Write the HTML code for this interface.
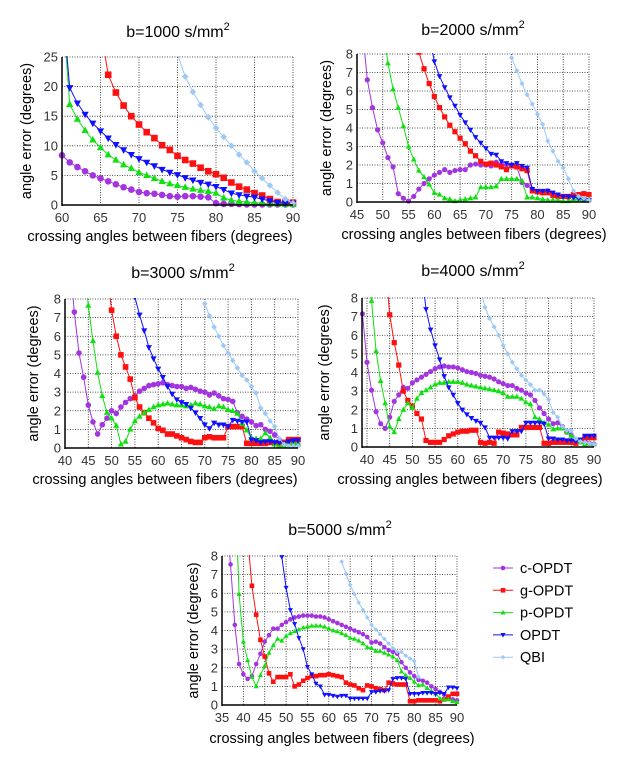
<!DOCTYPE html>
<html><head><meta charset="utf-8">
<style>
body{margin:0;background:#fff;}
svg{display:block;font-family:"Liberation Sans",sans-serif;}
</style></head>
<body>
<svg id="chart" width="628" height="763" viewBox="0 0 628 763"></svg>
<script>
const seriesNames = ["c-OPDT","g-OPDT","p-OPDT","OPDT","QBI"];
const seriesColors = ["#a335e0","#ff1010","#10e010","#1010ff","#9ec9f5"];
const seriesMarkers = ["circle","square","tri-up","tri-down","diamond"];

const b1000Start = [60,65,60,60,75];
const b1000c = [8.4,7.2,6.4,5.7,5.0,4.5,4.0,3.5,3.0,2.6,2.2,2.0,1.9,1.7,1.5,1.4,1.5,1.5,1.4,1.3,0.3,0.2,0.2,0.15,0.1,0.1,0.1,0.1,0.1,0.1,0.1];
const b1000g = [30,22,19,16.8,15,13.6,12.3,11.3,10.1,9.3,8.3,7.6,7.0,6.3,5.7,5.2,4.6,3.8,3.1,2.6,2.0,1.6,1.0,0.5,0.5,0.4];
const b1000p = [35,17,14.5,12.6,11,9.7,8.5,7.6,6.8,6.2,5.5,5.0,4.5,4.0,3.6,3.3,3.0,2.7,2.5,2.3,2.0,1.2,0.8,0.6,0.5,0.4,0.3,0.2,0.2,0.1,0.1];
const b1000o = [35,19.8,17.2,15.3,13.8,12.5,11.3,10.2,9.3,8.5,7.8,7.2,6.6,6.0,5.5,5.1,4.6,4.2,3.8,3.5,3.1,2.6,2.0,1.7,1.5,1.3,1.0,0.7,0.4,0.3,0.3];
const b1000q = [25.5,21.7,19.1,16.9,14.8,13.0,11.5,10.0,8.5,7.2,5.7,4.5,3.3,2.1,1.0,0.3];

const b2000Start = [46,57,50,59,75];
const b2000c = [9.5,6.6,5.1,3.9,3.2,2.4,1.9,0.45,0.2,0.05,0.3,0.7,1.0,1.25,1.45,1.6,1.75,1.6,1.7,1.75,1.75,2.0,2.05,2.0,2.0,1.95,2.15,2.05,2.0,2.0,1.9,1.05,0.9,0.7,0.55,0.5,0.6,0.45,0.3,0.3,0.25,0.3,0.2,0.15,0.1];
const b2000g = [8.1,7.2,6.4,5.7,5.1,4.6,4.15,3.8,3.45,3.15,2.75,2.5,2.2,2.05,2.1,2.0,1.9,1.75,1.95,1.9,1.8,1.7,0.6,0.55,0.5,0.5,0.35,0.3,0.3,0.3,0.4,0.4,0.45,0.4];
const b2000p = [9.5,7.5,6.1,5.1,4.1,3.0,2.3,1.7,1.35,0.95,0.5,0.4,0.2,0.15,0.05,0.1,0.15,0.2,0.25,0.8,0.8,0.8,0.85,1.25,1.25,1.25,1.25,1.15,0.25,0.25,0.2,0.15,0.1,0.1,0.1,0.05,0.05,0.15,0.15,0.15,0.15];
const b2000o = [9,7.6,6.8,6.2,5.65,5.2,4.7,4.3,3.9,3.5,3.2,2.9,2.6,2.55,2.2,2.1,2.0,2.1,1.95,1.85,0.7,0.6,0.6,0.6,0.5,0.4,0.3,0.3,0.25,0.2,0.15,0.1];
const b2000q = [7.8,7.1,6.4,5.8,5.3,4.75,4.2,3.3,2.75,2.2,1.85,1.25,0.6,0.3,0.2,0.1];

const b3000Start = [41,49,44,55,70];
const b3000c = [10,7.3,5.1,3.8,2.3,1.4,0.75,1.25,1.6,2.0,1.85,2.2,2.45,2.65,2.8,3.05,3.2,3.35,3.4,3.45,3.5,3.4,3.35,3.3,3.3,3.2,3.25,3.15,3.05,3.0,2.85,2.95,2.8,2.65,2.6,2.5,1.9,1.7,1.55,1.4,1.2,1.25,1.0,0.9,0.7,0.45,0.3,0.45,0.3,0.15];
const b3000g = [9.5,7.4,6.0,5.0,4.35,3.7,2.7,2.2,1.9,1.6,1.35,1.05,0.95,0.75,0.75,0.65,0.55,0.45,0.35,0.3,0.3,0.55,0.6,0.55,0.55,0.55,1.15,1.15,1.15,1.15,0.25,0.25,0.25,0.25,0.25,0.3,0.25,0.3,0.3,0.45,0.45,0.45];
const b3000p = [10,7.65,5.75,4.05,2.8,1.9,1.6,1.2,0.2,0.35,1.0,1.45,1.7,1.9,2.05,2.2,2.3,2.35,2.4,2.35,2.3,2.3,2.25,2.3,2.4,2.35,2.25,2.2,2.1,2.25,2.2,2.05,2.0,1.85,1.3,0.95,0.55,0.5,0.5,0.8,0.55,0.2,0.1,0.1,0.25,0.25,0.25];
const b3000o = [8.1,7.15,6.3,5.4,4.8,4.25,3.8,3.3,2.9,2.6,2.45,2.35,2.15,1.9,1.6,1.25,1.05,1.35,1.25,1.25,1.15,1.5,1.45,1.4,1.4,0.45,0.4,0.3,0.35,0.35,0.3,0.3,0.25,0.35,0.4,0.4];
const b3000q = [7.75,7.1,6.5,6.0,5.5,5.1,4.7,4.3,3.9,3.65,3.3,2.95,2.15,1.85,1.45,1.15,0.5,0.2,0.1,0.1,0.1];

const b4000Start = [39,44,40,52,65];
const b4000c = [7.15,4.55,3.05,1.9,1.25,1.0,1.6,2.45,2.8,3.2,3.15,3.45,3.6,3.75,3.9,4.05,4.2,4.3,4.35,4.3,4.3,4.25,4.15,4.05,4.0,3.95,3.85,3.8,3.75,3.65,3.5,3.4,3.3,3.3,3.15,3.05,2.9,2.8,2.5,2.1,1.8,1.5,1.25,1.3,1.1,0.8,0.65,0.4,0.3,0.3,0.2,0.15];
const b4000g = [10,7.1,5.6,4.4,3.0,2.5,2.2,1.8,1.5,0.35,0.25,0.25,0.25,0.4,0.6,0.7,0.8,0.85,0.85,0.9,0.9,0.25,0.2,0.25,0.2,0.8,0.75,0.7,0.65,0.65,1.05,1.05,1.05,1.05,1.05,0.2,0.2,0.25,0.25,0.25,0.25,0.25,0.2,0.3,0.5,0.5,0.5];
const b4000p = [11,7.85,5.15,3.55,2.35,1.1,0.8,1.5,2.0,2.35,2.1,2.6,2.9,3.05,3.2,3.35,3.45,3.45,3.5,3.5,3.5,3.45,3.35,3.3,3.25,3.2,3.15,3.1,3.05,3.0,2.9,2.7,2.7,2.7,2.6,2.4,2.3,1.6,1.5,1.3,1.2,0.95,1.0,1.0,0.8,0.6,0.4,0.25,0.15,0.2,0.15];
const b4000o = [9.5,7.4,6.3,5.45,4.7,3.8,3.2,2.8,2.35,2.0,1.75,1.55,1.4,1.3,1.05,0.5,0.5,0.5,0.5,0.45,0.85,0.85,0.85,1.3,1.3,1.3,1.3,1.25,0.45,0.45,0.4,0.4,0.35,0.35,0.3,0.4,0.6,0.6,0.6];
const b4000q = [8.5,7.5,6.9,6.45,6.0,5.45,5.0,4.55,4.2,3.85,3.6,3.35,3.05,3.05,2.85,2.55,1.85,1.6,1.1,0.9,0.9,0.45,0.3,0.25,0.2,0.15];

const b5000Start = [36,41,38,49,63];
const b5000c = [10,7.55,4.3,2.2,1.65,1.4,1.55,2.2,2.75,3.4,3.75,4.1,4.1,4.3,4.45,4.6,4.7,4.75,4.8,4.8,4.8,4.75,4.75,4.7,4.6,4.5,4.4,4.3,4.2,4.1,4.0,3.9,3.8,3.65,3.35,3.4,3.3,3.1,2.95,2.85,2.75,2.3,2.0,1.75,1.55,1.35,1.3,1.2,1.0,0.85,0.7,0.55,0.4,0.3,0.25];
const b5000g = [9,6.4,4.85,3.5,2.6,1.7,1.25,1.5,1.5,1.5,1.65,1.0,1.1,1.3,1.45,1.55,1.55,1.6,1.6,1.65,1.6,1.55,1.5,1.2,1.1,1.05,0.9,0.8,1.05,1.0,0.9,0.85,0.8,1.2,1.15,1.1,1.1,1.1,0.2,0.2,0.25,0.25,0.25,0.25,0.25,0.2,0.3,0.45,0.6,0.6];
const b5000p = [12,5.95,3.4,2.4,1.5,1.0,1.6,2.1,2.8,3.2,3.55,3.45,3.7,3.85,3.95,4.05,4.15,4.2,4.25,4.25,4.25,4.2,4.1,4.0,3.95,3.85,3.75,3.6,3.55,3.45,3.3,3.1,3.05,2.9,2.9,2.8,2.7,2.6,2.4,1.8,1.6,1.45,1.25,1.05,1.1,0.9,0.75,0.6,0.35,0.3,0.3,0.2,0.15];
const b5000o = [7.95,6.3,5.1,4.35,3.6,3.0,2.05,1.65,1.15,1.0,0.55,0.55,0.5,0.45,0.5,0.5,0.35,0.35,0.35,0.35,0.35,0.7,0.7,0.75,0.75,0.8,1.4,1.45,1.45,1.4,0.6,0.6,0.6,0.65,0.65,0.65,0.6,0.65,0.6,0.95,0.95,0.9];
const b5000q = [7.7,7.05,6.45,5.95,5.5,5.1,4.7,4.3,4.05,3.8,3.55,3.3,3.05,2.85,2.85,2.65,2.5,2.35,1.5];

const panelTitles = ["1000","2000","3000","4000","5000"];
const xTicks1 = [60,65,70,75,80,85,90];
const xTicks2 = [45,50,55,60,65,70,75,80,85,90];
const xTicks3 = [40,45,50,55,60,65,70,75,80,85,90];
const xTicks5 = [35,40,45,50,55,60,65,70,75,80,85,90];
const yTicks1 = [0,5,10,15,20,25];
const yTicks8 = [0,1,2,3,4,5,6,7,8];

const panels = [
 {name:"panel-b1000",L:62,R:293,T:57,B:205,xmin:60,xmax:90,ymax:25,xt:xTicks1,yt:yTicks1,start:b1000Start,data:[b1000c,b1000g,b1000p,b1000o,b1000q],ms:3.3,title:[178,37],ylab:30,xlab:[160,241]},
 {name:"panel-b2000",L:357,R:589,T:54,B:202,xmin:45,xmax:90,ymax:8,xt:xTicks2,yt:yTicks8,start:b2000Start,data:[b2000c,b2000g,b2000p,b2000o,b2000q],ms:2.6,title:[473,35],ylab:330,xlab:[474,239]},
 {name:"panel-b3000",L:65,R:298,T:299,B:448,xmin:40,xmax:90,ymax:8,xt:xTicks3,yt:yTicks8,start:b3000Start,data:[b3000c,b3000g,b3000p,b3000o,b3000q],ms:2.8,title:[183,278],ylab:37,xlab:[165,484]},
 {name:"panel-b4000",L:362,R:594,T:298,B:447,xmin:38.9,xmax:90,ymax:8,xt:xTicks3,yt:yTicks8,start:b4000Start,data:[b4000c,b4000g,b4000p,b4000o,b4000q],ms:2.6,title:[473,276],ylab:328,xlab:[470,484]},
 {name:"panel-b5000",L:222,R:457,T:556,B:705,xmin:35,xmax:90,ymax:8,xt:xTicks5,yt:yTicks8,start:b5000Start,data:[b5000c,b5000g,b5000p,b5000o,b5000q],ms:2.3,title:[340,535],ylab:197,xlab:[342,743]}
];

const NS="http://www.w3.org/2000/svg";
const svg=document.getElementById("chart");
function mk(tag,attrs,parent){const e=document.createElementNS(NS,tag);for(const k in attrs)e.setAttribute(k,attrs[k]);(parent||svg).appendChild(e);return e;}

function marker(g,type,x,y,s,color){
  let e;
  if(type==="circle") e=mk("circle",{cx:x,cy:y,r:s,fill:color},g);
  else if(type==="square") e=mk("rect",{x:x-s,y:y-s,width:2*s,height:2*s,fill:color},g);
  else if(type==="tri-up") e=mk("polygon",{points:`${x},${y-s*1.2} ${x-s*1.1},${y+s*0.8} ${x+s*1.1},${y+s*0.8}`,fill:color},g);
  else if(type==="tri-down") e=mk("polygon",{points:`${x},${y+s*1.2} ${x-s*1.1},${y-s*0.8} ${x+s*1.1},${y-s*0.8}`,fill:color},g);
  else e=mk("polygon",{points:`${x},${y-s} ${x+s},${y} ${x},${y+s} ${x-s},${y}`,fill:color},g);
  return e;
}

panels.forEach((p,pi)=>{
  const g=mk("g",{});
  
  
  const xs=v=>p.L+(v-p.xmin)/(p.xmax-p.xmin)*(p.R-p.L);
  const ys=v=>p.B-v/p.ymax*(p.B-p.T);
  p.xt.forEach(t=>{ if(t>p.xmin+0.5){ const l=mk("line",{x1:xs(t),x2:xs(t),y1:p.T,y2:p.B,stroke:"#222","stroke-width":0.8,"stroke-dasharray":"1,1.5"},g);   }});
  p.yt.forEach(t=>{ if(t>0){ const l=mk("line",{x1:p.L,x2:p.R,y1:ys(t),y2:ys(t),stroke:"#222","stroke-width":0.8,"stroke-dasharray":"1,1.5"},g);   }});
  const cid="clip"+pi;
  const cp=mk("clipPath",{id:cid},g);
  mk("rect",{x:p.L-4,y:p.T-1,width:p.R-p.L+8,height:p.B-p.T+5},cp);
  const plot=mk("g",{"clip-path":`url(#${cid})`},g);
  p.data.forEach((vals,si)=>{
    const sg=mk("g",{},plot);
    
    
    const pts=vals.map((v,i)=>[xs(p.start[si]+i),ys(v)]);
    mk("polyline",{points:pts.map(q=>q.join(",")).join(" "),fill:"none",stroke:seriesColors[si],"stroke-width":1},sg);
    pts.forEach(q=>{ const m=marker(sg,seriesMarkers[si],q[0],q[1],p.ms,seriesColors[si]);   });
  });
  const ya=mk("line",{x1:p.L,x2:p.L,y1:p.T,y2:p.B+1,stroke:"#000","stroke-width":1.5},g);
   
  const xa=mk("line",{x1:p.L,x2:p.R,y1:p.B,y2:p.B,stroke:"#000","stroke-width":1.5},g);
   
  p.xt.forEach(t=>{
    const tx=mk("text",{x:xs(t),y:p.B+17,"text-anchor":"middle","font-size":13,fill:"#333"},g);
    tx.textContent=t;
     
  });
  p.yt.forEach(t=>{
    const tx=mk("text",{x:p.L-4,y:ys(t)+4.5,"text-anchor":"end","font-size":13,fill:"#333"},g);
    tx.textContent=t;
     
  });
  const ti=mk("text",{x:p.title[0],y:p.title[1],"text-anchor":"middle","font-size":16,fill:"#000"},g);
  ti.innerHTML="b="+panelTitles[pi]+" s/mm<tspan font-size=\"11\" dy=\"-7\">2</tspan>";
   
  const yl=mk("text",{x:0,y:0,transform:`translate(${p.ylab+1},${(p.T+p.B)/2}) rotate(-90)`,"text-anchor":"middle","font-size":14.5,fill:"#000"},g);
  yl.textContent="angle error (degrees)";
   
  const xl=mk("text",{x:p.xlab[0],y:p.xlab[1],"text-anchor":"middle","font-size":14.5,fill:"#000"},g);
  xl.textContent="crossing angles between fibers (degrees)";
   
});

const lg=mk("g",{});


seriesNames.forEach((n,i)=>{
  const y=568+i*22.3;
  const eg=mk("g",{},lg);
  
  
  mk("line",{x1:493,x2:513,y1:y,y2:y,stroke:seriesColors[i],"stroke-width":1},eg);
  marker(eg,seriesMarkers[i],503,y,2.3,seriesColors[i]);
  const t=mk("text",{x:520,y:y+5,"font-size":14.5,fill:"#000"},eg);
  t.textContent=n;
});
</script>
</body></html>
